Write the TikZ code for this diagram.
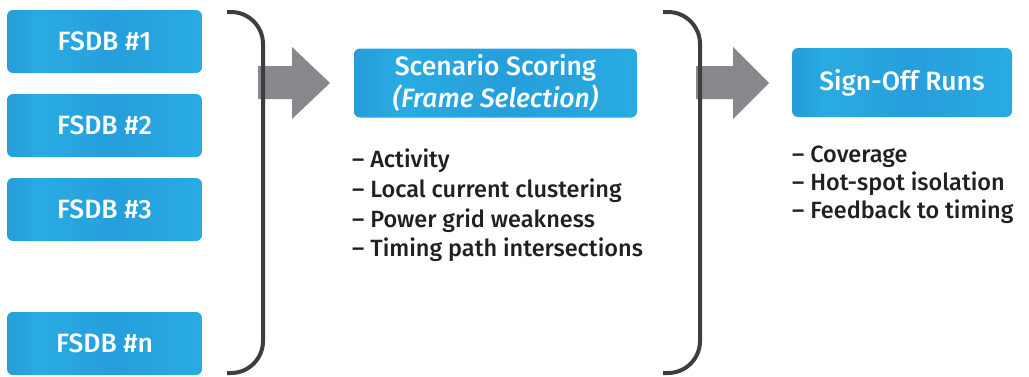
\documentclass[tikz,border=0pt]{standalone}
\usepackage{fontspec}
\setmainfont{Fira Sans}[UprightFont=* Medium, ItalicFont=* Medium Italic]
\definecolor{bdark}{HTML}{1B70B8}
\definecolor{blight}{HTML}{29ABE2}
\definecolor{bmid}{HTML}{269FDC}
\definecolor{agray}{HTML}{87888B}
\definecolor{bgray}{HTML}{3E3E40}
\definecolor{txt}{HTML}{231F20}
\pgfdeclarehorizontalshading{boxshade}{100bp}{color(0bp)=(bdark); color(33bp)=(blight); color(52bp)=(bmid); color(76bp)=(blight); color(100bp)=(bdark)}
\begin{document}
\begin{tikzpicture}[x=1pt,y=-1pt,
  box/.style={rounded corners=6pt, shade, shading=boxshade, text=white, inner sep=0pt, align=center, font=\fontsize{26.5}{31}\selectfont},
  fsdb/.style={box, minimum width=195pt, minimum height=63pt},
  listtext/.style={text=txt, inner sep=0pt, align=left, anchor=north west},
  bracket/.style={draw=bgray, line width=4pt, rounded corners=32pt},
  blockarrow/.style={fill=agray}]
\useasboundingbox (0,0) rectangle (1029,376);
% input boxes
\node[fsdb] (f1) at (104.5,41.5) {FSDB \#1};
\node[fsdb] (f2) at (104.5,125.5) {FSDB \#2};
\node[fsdb] (f3) at (104.5,209.5) {FSDB \#3};
\node[fsdb] (fn) at (104.5,343.5) {FSDB \#n};
% block arrows
\fill[blockarrow] (258,66) -- (292,66) -- (292,47) -- (330,83) -- (292,119) -- (292,99) -- (258,99) -- cycle;
\fill[blockarrow] (696,66) -- (733,66) -- (733,47) -- (769,83) -- (733,119) -- (733,99) -- (696,99) -- cycle;
% brackets
\draw[bracket] (227,12) -- (263,12) -- (263,373) -- (227,373);
\draw[bracket] (663,12) -- (700,12) -- (700,373) -- (663,373);
% boxes
\node[box, minimum width=283pt, minimum height=69pt] (score) at (495.5,83) {Scenario Scoring\\[1pt]\itshape(Frame Selection)};
\node[box, minimum width=220pt, minimum height=69pt] (sign) at (902,82.5) {Sign-Off Runs};
% lists
\node[listtext, font=\fontsize{23.5}{29.6}\selectfont] (l1) at (352,149) {– Activity\\– Local current clustering\\– Power grid weakness\\– Timing path intersections};
\node[listtext, font=\fontsize{23.5}{27.8}\selectfont] (l2) at (792,146) {– Coverage\\– Hot-spot isolation\\– Feedback to timing};
\end{tikzpicture}
\end{document}
